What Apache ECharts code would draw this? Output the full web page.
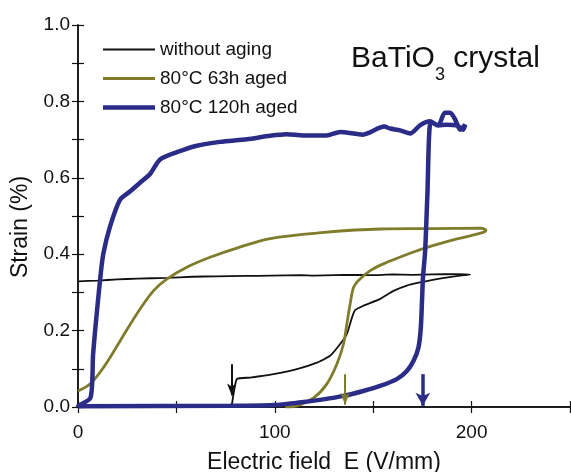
<!DOCTYPE html>
<html>
<head>
<meta charset="utf-8">
<script src="https://cdn.jsdelivr.net/npm/echarts@6/dist/echarts.min.js"></script>
<style>
  html, body { margin: 0; padding: 0; background: #fff; }
  #main { width: 571px; height: 472px; }
</style>
</head>
<body>
<div id="main"></div>
<script>
// series names
const seriesNames = ['without aging', '80°C 63h aged', '80°C 120h aged'];

// without aging: field up (lower branch) then back down (upper branch)
const blackE = [78.1, 78.3, 80.7, 87.5, 99.3, 111.2, 121.4, 128.1, 133.2, 136.6, 139.2, 140.9, 145, 153.6, 160.3, 167.1, 173.8, 182.4, 194.2, 199.3,
  192, 180, 170, 160, 149, 140, 130, 120, 113, 98, 85, 70, 58, 45, 30, 20, 10, 0];
const blackS = [0, 0.01, 0.073, 0.077, 0.086, 0.099, 0.116, 0.134, 0.165, 0.191, 0.234, 0.254, 0.265, 0.283, 0.304, 0.318, 0.326, 0.335, 0.344, 0.347,
  0.348, 0.347, 0.346, 0.347, 0.345, 0.346, 0.345, 0.344, 0.345, 0.344, 0.343, 0.342, 0.341, 0.338, 0.336, 0.334, 0.331, 0.329];

// 80C 63h aged
const oliveE = [105.3, 111.2, 119.7, 126.4, 131.5, 134.9, 136.6, 138.3, 140, 142.5, 148.5, 157, 165.4, 172.2, 177.3, 192.6, 206, 207.3,
  204.4, 180, 153.6, 125, 97.6, 80.7, 67.1, 55.3, 45.1, 38.3, 29.8, 21.4, 12.9, 6.1, 0];
const oliveS = [0, 0.003, 0.024, 0.06, 0.112, 0.165, 0.217, 0.27, 0.313, 0.331, 0.357, 0.379, 0.396, 0.409, 0.418, 0.44, 0.457, 0.463,
  0.468, 0.467, 0.466, 0.457, 0.441, 0.416, 0.392, 0.366, 0.335, 0.304, 0.243, 0.173, 0.103, 0.06, 0.042];

// 80C 120h aged
const blueE = [0, 77.3, 99.5, 111.3, 124.7, 134.9, 145, 153.5, 162, 167.1, 170.5, 173, 174.2, 174.8, 175.3, 176.4, 177.5, 179.3,
  183, 186.4, 189.1, 191.7, 194.2, 196.7, 195.7, 192.5, 187.4, 183, 179, 173.9, 168.8, 163.7, 158.6, 155.6, 144.8, 133.2, 126.4, 114.4, 106, 97.6,
  85.9, 72.2, 60.4, 50.2, 41.7, 36.6, 31.5, 26.4, 21.4, 16.3, 12.9, 11.2, 7.7, 6.4, 0.2, 0];
const blueS = [0.002, 0.003, 0.005, 0.011, 0.02, 0.029, 0.042, 0.055, 0.073, 0.094, 0.121, 0.156, 0.208, 0.278, 0.339, 0.409, 0.55, 0.747,
  0.737, 0.77, 0.77, 0.752, 0.726, 0.739, 0.726, 0.737, 0.739, 0.737, 0.748, 0.738, 0.716, 0.724, 0.729, 0.734, 0.713, 0.72, 0.711, 0.711, 0.714, 0.71,
  0.701, 0.694, 0.684, 0.667, 0.648, 0.61, 0.587, 0.564, 0.543, 0.473, 0.402, 0.332, 0.14, 0.025, 0.003, 0];

// arrows marking the onset fields
const arrowE = [78.1, 135.7, 175.2];
const arrowTop = [0.112, 0.086, 0.086];
const arrowBottom = [0.03, 0.006, 0.003];

const colors = ['#111111', '#7f7c2b', '#2a2c88'];
const widths = [1.8, 2.8, 4.5];
const smoothness = [0.15, 0.35, 0.25];

const xTicks = [0, 100, 200];
const yTicks = [0, 0.2, 0.4, 0.6, 0.8, 1.0];

function pairs(xs, ys) {
  return xs.map((x, i) => [x, ys[i]]);
}

const font = 'Liberation Sans, Arial, Helvetica, sans-serif';
const axisLine = { show: true, lineStyle: { color: '#111', width: 1.5 } };
const axisTick = { show: true, inside: true, length: 6, lineStyle: { color: '#111', width: 1.2 } };

const allData = [pairs(blackE, blackS), pairs(oliveE, oliveS), pairs(blueE, blueS)];

const series = allData.map((d, i) => ({
  name: seriesNames[i],
  type: 'line',
  data: d,
  showSymbol: false,
  symbol: 'none',
  smooth: smoothness[i],
  z: 2 + i,
  lineStyle: { color: colors[i], width: widths[i] },
  itemStyle: { color: colors[i] },
  markLine: {
    silent: true,
    symbol: ['none', 'arrow'],
    symbolSize: i === 2 ? [11, 13] : [7, 12],
    label: { show: false },
    lineStyle: { type: 'solid', color: colors[i], width: i === 2 ? 3.5 : 2 },
    data: [[{ coord: [arrowE[i], arrowTop[i]] }, { coord: [arrowE[i], arrowBottom[i]] }]]
  }
}));

// thin bar icons for the legend, one thickness per series
const legendData = seriesNames.map((n, i) => ({
  name: n,
  icon: 'path://M0,0 L52,0 L52,' + widths[i] + ' L0,' + widths[i] + ' Z'
}));

const myChart = echarts.init(document.getElementById('main'));
myChart.setOption({
  animation: false,
  backgroundColor: '#fff',
  textStyle: { fontFamily: font, color: '#111' },
  grid: { left: 78, right: 1, top: 25, bottom: 65, outerBoundsMode: 'none', containLabel: false },
  title: {
    text: 'BaTiO{sub|3} crystal',
    left: 351,
    top: 34,
    padding: 0,
    textStyle: {
      fontFamily: font, fontSize: 30, fontWeight: 'normal', color: '#111', lineHeight: 50,
      rich: { sub: { fontFamily: font, fontSize: 18, color: '#111', verticalAlign: 'bottom', lineHeight: 50 } }
    }
  },
  legend: {
    orient: 'vertical',
    left: 103,
    top: 40,
    padding: 0,
    itemWidth: 52,
    itemHeight: 19,
    itemGap: 10,
    textStyle: { fontFamily: font, fontSize: 19, color: '#111', lineHeight: 19 },
    data: legendData
  },
  xAxis: [{
    type: 'value', min: 0, max: 250, interval: 50, position: 'bottom',
    axisLine: axisLine, axisTick: axisTick, splitLine: { show: false },
    axisLabel: {
      fontFamily: font, fontSize: 19, color: '#111', margin: 16,
      formatter: v => (xTicks.indexOf(v) >= 0 ? String(v) : '')
    },
    name: 'Electric field  E (V/mm)', nameLocation: 'middle', nameGap: 44,
    nameTextStyle: { fontFamily: font, fontSize: 23, color: '#111' }
  }, {
    type: 'value', min: 0, max: 250, interval: 50, position: 'top',
    axisLine: axisLine, axisTick: axisTick, splitLine: { show: false },
    axisLabel: { show: false }
  }],
  yAxis: [{
    type: 'value', min: 0, max: 1, interval: 0.1, position: 'left',
    axisLine: axisLine, axisTick: axisTick, splitLine: { show: false },
    axisLabel: {
      fontFamily: font, fontSize: 19, color: '#111', margin: 8,
      formatter: v => {
        const r = Math.round(v * 10) / 10;
        return yTicks.some(t => Math.abs(t - r) < 1e-6) ? r.toFixed(1) : '';
      }
    },
    name: 'Strain (%)', nameLocation: 'middle', nameGap: 46,
    nameTextStyle: { fontFamily: font, fontSize: 23, color: '#111', padding: [0, 22, 0, 0] }
  }, {
    type: 'value', min: 0, max: 1, interval: 0.1, position: 'right',
    axisLine: axisLine, axisTick: axisTick, splitLine: { show: false },
    axisLabel: { show: false }
  }],
  series: series
});
</script>
</body>
</html>
